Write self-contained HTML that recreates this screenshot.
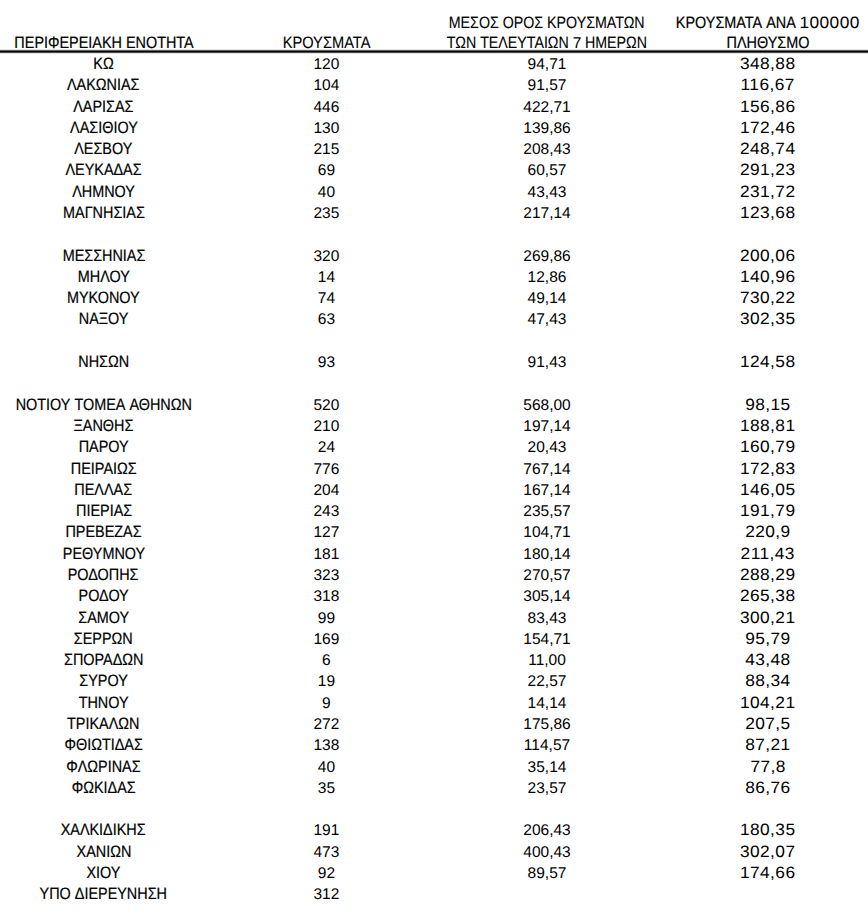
<!DOCTYPE html>
<html><head><meta charset="utf-8"><style>
html,body{margin:0;padding:0;background:#fff;}
body{width:868px;height:919px;position:relative;overflow:hidden;font-family:"Liberation Sans",sans-serif;color:#000;text-rendering:geometricPrecision;}
.c{position:absolute;white-space:nowrap;line-height:20px;font-size:16px;transform:translateX(-50%);}
.Al{display:inline-block;font-size:16.5px;transform:translateY(0px) scale(0.873,1);transform-origin:50% 3px;}
.Ad{display:inline-block;letter-spacing:0.4px;font-size:16.5px;transform:translateY(-0.5px) scale(1.05,1);transform-origin:50% 3px;}
.Cl{display:inline-block;font-size:16.5px;transform:translateY(0px) scale(0.862,1);transform-origin:50% 3px;}
.Cd{display:inline-block;font-size:15.5px;transform:translateY(-0.5px) scale(1.0,1);transform-origin:50% 3px;letter-spacing:0px;}
.A .Al{-webkit-text-stroke:0.2px #000;}
.A .Ad{-webkit-text-stroke:0.0px #000;}
.C .Cl{-webkit-text-stroke:0.1px #000;}
.C .Cd{-webkit-text-stroke:0.0px #000;}
.line{position:absolute;left:0;width:868px;}
</style></head>
<body>
<div class="c A" style="left:103.60px;top:33.00px"><span class="Al" style="margin:0 -13.04px">ΠΕΡΙΦΕΡΕΙΑΚΗ&nbsp;ΕΝΟΤΗΤΑ</span></div>
<div class="c C" style="left:326.40px;top:33.00px"><span class="Cl" style="margin:0 -5.55px;transform:translateY(0px) scale(0.8879,1)">ΚΡΟΥΣΜΑΤΑ</span></div>
<div class="c C" style="left:547.00px;top:13.00px"><span class="Cl" style="margin:0 -15.67px">ΜΕΣΟΣ&nbsp;ΟΡΟΣ&nbsp;ΚΡΟΥΣΜΑΤΩΝ</span></div>
<div class="c C" style="left:547.00px;top:33.00px"><span class="Cl" style="margin:0 -10.08px">ΤΩΝ&nbsp;ΤΕΛΕΥΤΑΙΩΝ&nbsp;</span><span class="Cd">7</span><span class="Cl" style="margin:0 -5.28px">&nbsp;ΗΜΕΡΩΝ</span></div>
<div class="c A" style="left:768.00px;top:13.00px"><span class="Al" style="margin:0 -9.02px">ΚΡΟΥΣΜΑΤΑ&nbsp;ΑΝΑ&nbsp;</span><span class="Ad" style="margin:0 1.44px">100000</span></div>
<div class="c A" style="left:768.00px;top:33.00px"><span class="Al" style="margin:0 -6.03px">ΠΛΗΘΥΣΜΟ</span></div>
<div class="line" style="top:49px;height:1px;background:#e4e4e4"></div>
<div class="line" style="top:50px;height:1px;background:#606060"></div>
<div class="line" style="top:51px;height:1px;background:#000000"></div>
<div class="line" style="top:52px;height:1px;background:#505050"></div>
<div class="line" style="top:53px;height:1px;background:#e0e0e0"></div>
<div class="c A" style="left:103.60px;top:54.00px"><span class="Al" style="margin:0 -1.48px">ΚΩ</span></div>
<div class="c C" style="left:326.40px;top:55.00px"><span class="Cd">120</span></div>
<div class="c C" style="left:547.00px;top:55.00px"><span class="Cd">94,71</span></div>
<div class="c A" style="left:768.00px;top:54.00px"><span class="Ad" style="margin:0 1.32px">348,88</span></div>
<div class="c A" style="left:103.60px;top:75.29px"><span class="Al" style="margin:0 -5.28px">ΛΑΚΩΝΙΑΣ</span></div>
<div class="c C" style="left:326.40px;top:76.29px"><span class="Cd">104</span></div>
<div class="c C" style="left:547.00px;top:76.29px"><span class="Cd">91,57</span></div>
<div class="c A" style="left:768.00px;top:75.29px"><span class="Ad" style="margin:0 1.29px">116,67</span></div>
<div class="c A" style="left:103.60px;top:96.58px"><span class="Al" style="margin:0 -4.38px">ΛΑΡΙΣΑΣ</span></div>
<div class="c C" style="left:326.40px;top:97.58px"><span class="Cd">446</span></div>
<div class="c C" style="left:547.00px;top:97.58px"><span class="Cd">422,71</span></div>
<div class="c A" style="left:768.00px;top:96.58px"><span class="Ad" style="margin:0 1.32px">156,86</span></div>
<div class="c A" style="left:103.60px;top:117.87px"><span class="Al" style="margin:0 -4.92px">ΛΑΣΙΘΙΟΥ</span></div>
<div class="c C" style="left:326.40px;top:118.87px"><span class="Cd">130</span></div>
<div class="c C" style="left:547.00px;top:118.87px"><span class="Cd">139,86</span></div>
<div class="c A" style="left:768.00px;top:117.87px"><span class="Ad" style="margin:0 1.32px">172,46</span></div>
<div class="c A" style="left:103.60px;top:139.16px"><span class="Al" style="margin:0 -4.23px">ΛΕΣΒΟΥ</span></div>
<div class="c C" style="left:326.40px;top:140.16px"><span class="Cd">215</span></div>
<div class="c C" style="left:547.00px;top:140.16px"><span class="Cd">208,43</span></div>
<div class="c A" style="left:768.00px;top:139.16px"><span class="Ad" style="margin:0 1.32px">248,74</span></div>
<div class="c A" style="left:103.60px;top:160.45px"><span class="Al" style="margin:0 -5.54px">ΛΕΥΚΑΔΑΣ</span></div>
<div class="c C" style="left:326.40px;top:161.45px"><span class="Cd">69</span></div>
<div class="c C" style="left:547.00px;top:161.45px"><span class="Cd">60,57</span></div>
<div class="c A" style="left:768.00px;top:160.45px"><span class="Ad" style="margin:0 1.32px">291,23</span></div>
<div class="c A" style="left:103.60px;top:181.74px"><span class="Al" style="margin:0 -4.57px">ΛΗΜΝΟΥ</span></div>
<div class="c C" style="left:326.40px;top:182.74px"><span class="Cd">40</span></div>
<div class="c C" style="left:547.00px;top:182.74px"><span class="Cd">43,43</span></div>
<div class="c A" style="left:768.00px;top:181.74px"><span class="Ad" style="margin:0 1.32px">231,72</span></div>
<div class="c A" style="left:103.60px;top:203.03px"><span class="Al" style="margin:0 -5.95px">ΜΑΓΝΗΣΙΑΣ</span></div>
<div class="c C" style="left:326.40px;top:204.03px"><span class="Cd">235</span></div>
<div class="c C" style="left:547.00px;top:204.03px"><span class="Cd">217,14</span></div>
<div class="c A" style="left:768.00px;top:203.03px"><span class="Ad" style="margin:0 1.32px">123,68</span></div>
<div class="c A" style="left:103.60px;top:245.61px"><span class="Al" style="margin:0 -6.02px">ΜΕΣΣΗΝΙΑΣ</span></div>
<div class="c C" style="left:326.40px;top:246.61px"><span class="Cd">320</span></div>
<div class="c C" style="left:547.00px;top:246.61px"><span class="Cd">269,86</span></div>
<div class="c A" style="left:768.00px;top:245.61px"><span class="Ad" style="margin:0 1.32px">200,06</span></div>
<div class="c A" style="left:103.60px;top:266.90px"><span class="Al" style="margin:0 -3.79px">ΜΗΛΟΥ</span></div>
<div class="c C" style="left:326.40px;top:267.90px"><span class="Cd">14</span></div>
<div class="c C" style="left:547.00px;top:267.90px"><span class="Cd">12,86</span></div>
<div class="c A" style="left:768.00px;top:266.90px"><span class="Ad" style="margin:0 1.32px">140,96</span></div>
<div class="c A" style="left:103.60px;top:288.19px"><span class="Al" style="margin:0 -5.29px">ΜΥΚΟΝΟΥ</span></div>
<div class="c C" style="left:326.40px;top:289.19px"><span class="Cd">74</span></div>
<div class="c C" style="left:547.00px;top:289.19px"><span class="Cd">49,14</span></div>
<div class="c A" style="left:768.00px;top:288.19px"><span class="Ad" style="margin:0 1.32px">730,22</span></div>
<div class="c A" style="left:103.60px;top:309.48px"><span class="Al" style="margin:0 -3.62px">ΝΑΞΟΥ</span></div>
<div class="c C" style="left:326.40px;top:310.48px"><span class="Cd">63</span></div>
<div class="c C" style="left:547.00px;top:310.48px"><span class="Cd">47,43</span></div>
<div class="c A" style="left:768.00px;top:309.48px"><span class="Ad" style="margin:0 1.32px">302,35</span></div>
<div class="c A" style="left:103.60px;top:352.06px"><span class="Al" style="margin:0 -3.70px">ΝΗΣΩΝ</span></div>
<div class="c C" style="left:326.40px;top:353.06px"><span class="Cd">93</span></div>
<div class="c C" style="left:547.00px;top:353.06px"><span class="Cd">91,43</span></div>
<div class="c A" style="left:768.00px;top:352.06px"><span class="Ad" style="margin:0 1.32px">124,58</span></div>
<div class="c A" style="left:103.60px;top:394.64px"><span class="Al" style="margin:0 -12.82px">ΝΟΤΙΟΥ&nbsp;ΤΟΜΕΑ&nbsp;ΑΘΗΝΩΝ</span></div>
<div class="c C" style="left:326.40px;top:395.64px"><span class="Cd">520</span></div>
<div class="c C" style="left:547.00px;top:395.64px"><span class="Cd">568,00</span></div>
<div class="c A" style="left:768.00px;top:394.64px"><span class="Ad" style="margin:0 1.08px">98,15</span></div>
<div class="c A" style="left:103.60px;top:415.93px"><span class="Al" style="margin:0 -4.36px">ΞΑΝΘΗΣ</span></div>
<div class="c C" style="left:326.40px;top:416.93px"><span class="Cd">210</span></div>
<div class="c C" style="left:547.00px;top:416.93px"><span class="Cd">197,14</span></div>
<div class="c A" style="left:768.00px;top:415.93px"><span class="Ad" style="margin:0 1.32px">188,81</span></div>
<div class="c A" style="left:103.60px;top:437.22px"><span class="Al" style="margin:0 -3.63px">ΠΑΡΟΥ</span></div>
<div class="c C" style="left:326.40px;top:438.22px"><span class="Cd">24</span></div>
<div class="c C" style="left:547.00px;top:438.22px"><span class="Cd">20,43</span></div>
<div class="c A" style="left:768.00px;top:437.22px"><span class="Ad" style="margin:0 1.32px">160,79</span></div>
<div class="c A" style="left:103.60px;top:458.51px"><span class="Al" style="margin:0 -4.79px">ΠΕΙΡΑΙΩΣ</span></div>
<div class="c C" style="left:326.40px;top:459.51px"><span class="Cd">776</span></div>
<div class="c C" style="left:547.00px;top:459.51px"><span class="Cd">767,14</span></div>
<div class="c A" style="left:768.00px;top:458.51px"><span class="Ad" style="margin:0 1.32px">172,83</span></div>
<div class="c A" style="left:103.60px;top:479.80px"><span class="Al" style="margin:0 -4.20px">ΠΕΛΛΑΣ</span></div>
<div class="c C" style="left:326.40px;top:480.80px"><span class="Cd">204</span></div>
<div class="c C" style="left:547.00px;top:480.80px"><span class="Cd">167,14</span></div>
<div class="c A" style="left:768.00px;top:479.80px"><span class="Ad" style="margin:0 1.32px">146,05</span></div>
<div class="c A" style="left:103.60px;top:501.09px"><span class="Al" style="margin:0 -4.08px">ΠΙΕΡΙΑΣ</span></div>
<div class="c C" style="left:326.40px;top:502.09px"><span class="Cd">243</span></div>
<div class="c C" style="left:547.00px;top:502.09px"><span class="Cd">235,57</span></div>
<div class="c A" style="left:768.00px;top:501.09px"><span class="Ad" style="margin:0 1.32px">191,79</span></div>
<div class="c A" style="left:103.60px;top:522.38px"><span class="Al" style="margin:0 -5.54px">ΠΡΕΒΕΖΑΣ</span></div>
<div class="c C" style="left:326.40px;top:523.38px"><span class="Cd">127</span></div>
<div class="c C" style="left:547.00px;top:523.38px"><span class="Cd">104,71</span></div>
<div class="c A" style="left:768.00px;top:522.38px"><span class="Ad" style="margin:0 1.08px">220,9</span></div>
<div class="c A" style="left:103.60px;top:543.67px"><span class="Al" style="margin:0 -5.99px">ΡΕΘΥΜΝΟΥ</span></div>
<div class="c C" style="left:326.40px;top:544.67px"><span class="Cd">181</span></div>
<div class="c C" style="left:547.00px;top:544.67px"><span class="Cd">180,14</span></div>
<div class="c A" style="left:768.00px;top:543.67px"><span class="Ad" style="margin:0 1.29px">211,43</span></div>
<div class="c A" style="left:103.60px;top:564.96px"><span class="Al" style="margin:0 -5.15px">ΡΟΔΟΠΗΣ</span></div>
<div class="c C" style="left:326.40px;top:565.96px"><span class="Cd">323</span></div>
<div class="c C" style="left:547.00px;top:565.96px"><span class="Cd">270,57</span></div>
<div class="c A" style="left:768.00px;top:564.96px"><span class="Ad" style="margin:0 1.32px">288,29</span></div>
<div class="c A" style="left:103.60px;top:586.25px"><span class="Al" style="margin:0 -3.65px">ΡΟΔΟΥ</span></div>
<div class="c C" style="left:326.40px;top:587.25px"><span class="Cd">318</span></div>
<div class="c C" style="left:547.00px;top:587.25px"><span class="Cd">305,14</span></div>
<div class="c A" style="left:768.00px;top:586.25px"><span class="Ad" style="margin:0 1.32px">265,38</span></div>
<div class="c A" style="left:103.60px;top:607.54px"><span class="Al" style="margin:0 -3.70px">ΣΑΜΟΥ</span></div>
<div class="c C" style="left:326.40px;top:608.54px"><span class="Cd">99</span></div>
<div class="c C" style="left:547.00px;top:608.54px"><span class="Cd">83,43</span></div>
<div class="c A" style="left:768.00px;top:607.54px"><span class="Ad" style="margin:0 1.32px">300,21</span></div>
<div class="c A" style="left:103.60px;top:628.83px"><span class="Al" style="margin:0 -4.28px">ΣΕΡΡΩΝ</span></div>
<div class="c C" style="left:326.40px;top:629.83px"><span class="Cd">169</span></div>
<div class="c C" style="left:547.00px;top:629.83px"><span class="Cd">154,71</span></div>
<div class="c A" style="left:768.00px;top:628.83px"><span class="Ad" style="margin:0 1.08px">95,79</span></div>
<div class="c A" style="left:103.60px;top:650.12px"><span class="Al" style="margin:0 -5.78px">ΣΠΟΡΑΔΩΝ</span></div>
<div class="c C" style="left:326.40px;top:651.12px"><span class="Cd">6</span></div>
<div class="c C" style="left:547.00px;top:651.12px"><span class="Cd">11,00</span></div>
<div class="c A" style="left:768.00px;top:650.12px"><span class="Ad" style="margin:0 1.08px">43,48</span></div>
<div class="c A" style="left:103.60px;top:671.41px"><span class="Al" style="margin:0 -3.53px">ΣΥΡΟΥ</span></div>
<div class="c C" style="left:326.40px;top:672.41px"><span class="Cd">19</span></div>
<div class="c C" style="left:547.00px;top:672.41px"><span class="Cd">22,57</span></div>
<div class="c A" style="left:768.00px;top:671.41px"><span class="Ad" style="margin:0 1.08px">88,34</span></div>
<div class="c A" style="left:103.60px;top:692.70px"><span class="Al" style="margin:0 -3.63px">ΤΗΝΟΥ</span></div>
<div class="c C" style="left:326.40px;top:693.70px"><span class="Cd">9</span></div>
<div class="c C" style="left:547.00px;top:693.70px"><span class="Cd">14,14</span></div>
<div class="c A" style="left:768.00px;top:692.70px"><span class="Ad" style="margin:0 1.32px">104,21</span></div>
<div class="c A" style="left:103.60px;top:713.99px"><span class="Al" style="margin:0 -5.27px">ΤΡΙΚΑΛΩΝ</span></div>
<div class="c C" style="left:326.40px;top:714.99px"><span class="Cd">272</span></div>
<div class="c C" style="left:547.00px;top:714.99px"><span class="Cd">175,86</span></div>
<div class="c A" style="left:768.00px;top:713.99px"><span class="Ad" style="margin:0 1.08px">207,5</span></div>
<div class="c A" style="left:103.60px;top:735.28px"><span class="Al" style="margin:0 -5.70px">ΦΘΙΩΤΙΔΑΣ</span></div>
<div class="c C" style="left:326.40px;top:736.28px"><span class="Cd">138</span></div>
<div class="c C" style="left:547.00px;top:736.28px"><span class="Cd">114,57</span></div>
<div class="c A" style="left:768.00px;top:735.28px"><span class="Ad" style="margin:0 1.08px">87,21</span></div>
<div class="c A" style="left:103.60px;top:756.57px"><span class="Al" style="margin:0 -5.41px">ΦΛΩΡΙΝΑΣ</span></div>
<div class="c C" style="left:326.40px;top:757.57px"><span class="Cd">40</span></div>
<div class="c C" style="left:547.00px;top:757.57px"><span class="Cd">35,14</span></div>
<div class="c A" style="left:768.00px;top:756.57px"><span class="Ad" style="margin:0 0.84px">77,8</span></div>
<div class="c A" style="left:103.60px;top:777.86px"><span class="Al" style="margin:0 -4.66px">ΦΩΚΙΔΑΣ</span></div>
<div class="c C" style="left:326.40px;top:778.86px"><span class="Cd">35</span></div>
<div class="c C" style="left:547.00px;top:778.86px"><span class="Cd">23,57</span></div>
<div class="c A" style="left:768.00px;top:777.86px"><span class="Ad" style="margin:0 1.08px">86,76</span></div>
<div class="c A" style="left:103.60px;top:820.44px"><span class="Al" style="margin:0 -6.18px">ΧΑΛΚΙΔΙΚΗΣ</span></div>
<div class="c C" style="left:326.40px;top:821.44px"><span class="Cd">191</span></div>
<div class="c C" style="left:547.00px;top:821.44px"><span class="Cd">206,43</span></div>
<div class="c A" style="left:768.00px;top:820.44px"><span class="Ad" style="margin:0 1.32px">180,35</span></div>
<div class="c A" style="left:103.60px;top:841.73px"><span class="Al" style="margin:0 -3.99px">ΧΑΝΙΩΝ</span></div>
<div class="c C" style="left:326.40px;top:842.73px"><span class="Cd">473</span></div>
<div class="c C" style="left:547.00px;top:842.73px"><span class="Cd">400,43</span></div>
<div class="c A" style="left:768.00px;top:841.73px"><span class="Ad" style="margin:0 1.32px">302,07</span></div>
<div class="c A" style="left:103.60px;top:863.02px"><span class="Al" style="margin:0 -2.47px">ΧΙΟΥ</span></div>
<div class="c C" style="left:326.40px;top:864.02px"><span class="Cd">92</span></div>
<div class="c C" style="left:547.00px;top:864.02px"><span class="Cd">89,57</span></div>
<div class="c A" style="left:768.00px;top:863.02px"><span class="Ad" style="margin:0 1.32px">174,66</span></div>
<div class="c A" style="left:103.60px;top:884.31px"><span class="Al" style="margin:0 -9.27px">ΥΠΟ&nbsp;ΔΙΕΡΕΥΝΗΣΗ</span></div>
<div class="c C" style="left:326.40px;top:885.31px"><span class="Cd">312</span></div>
</body></html>
